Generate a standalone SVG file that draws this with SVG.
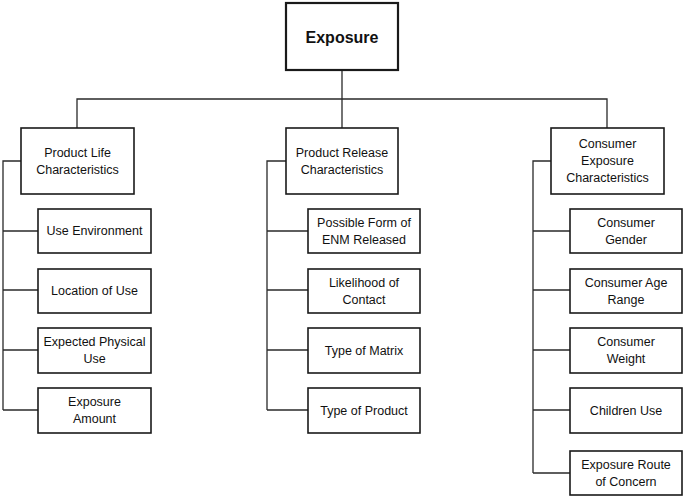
<svg xmlns="http://www.w3.org/2000/svg" width="685" height="498" viewBox="0 0 685 498">
<style>
.box{fill:#fff;stroke:#1a1a1a;stroke-width:1.6}
.root{fill:#fff;stroke:#1a1a1a;stroke-width:2.2}
.lbl{font-family:"Liberation Sans",Arial,sans-serif;font-size:12.5px;fill:#111;text-anchor:middle;dominant-baseline:central}
.rt{font-family:"Liberation Sans",Arial,sans-serif;font-size:16px;font-weight:bold;fill:#111;text-anchor:middle;dominant-baseline:central}
.con{fill:none;stroke:#2a2a2a;stroke-width:1.3}
</style>
<rect width="685" height="498" fill="#fff"/>
<g id="connectors">
<path class="con" d="M342 70V128M77 128V99H607V128"/>
<path class="con" d="M21 161H3V410M3 231H38M3 290H38M3 350H38M3 410H38"/>
<path class="con" d="M286 161H267V410M267 231H308M267 290H308M267 350H308M267 410H308"/>
<path class="con" d="M551 161H533V473M533 231H570M533 290H570M533 350H570M533 410H570M533 473H570"/>
</g>
<g id="exposure"><rect class="root" x="286" y="3" width="112" height="67"/><text class="rt" x="342" y="37">Exposure</text></g>
<g id="product-life"><rect class="box" x="21" y="128" width="113" height="66"/><text class="lbl" x="77.5" y="152.5">Product Life</text><text class="lbl" x="77.5" y="170">Characteristics</text></g>
<g id="product-release"><rect class="box" x="286" y="128" width="112" height="66"/><text class="lbl" x="342" y="152.5">Product Release</text><text class="lbl" x="342" y="170">Characteristics</text></g>
<g id="consumer-exposure"><rect class="box" x="551" y="128" width="113" height="66"/><text class="lbl" x="607.5" y="144">Consumer</text><text class="lbl" x="607.5" y="161">Exposure</text><text class="lbl" x="607.5" y="178">Characteristics</text></g>
<g id="use-environment"><rect class="box" x="38" y="209" width="113" height="44"/><text class="lbl" x="94.5" y="231">Use Environment</text></g>
<g id="location-of-use"><rect class="box" x="38" y="269" width="113" height="44"/><text class="lbl" x="94.5" y="291">Location of Use</text></g>
<g id="expected-physical-use"><rect class="box" x="38" y="328" width="113" height="45"/><text class="lbl" x="94.5" y="342">Expected Physical</text><text class="lbl" x="94.5" y="359">Use</text></g>
<g id="exposure-amount"><rect class="box" x="38" y="388" width="113" height="45"/><text class="lbl" x="94.5" y="402">Exposure</text><text class="lbl" x="94.5" y="419">Amount</text></g>
<g id="possible-form"><rect class="box" x="308" y="209" width="112" height="44"/><text class="lbl" x="364" y="222.5">Possible Form of</text><text class="lbl" x="364" y="239.5">ENM Released</text></g>
<g id="likelihood"><rect class="box" x="308" y="269" width="112" height="44"/><text class="lbl" x="364" y="282.5">Likelihood of</text><text class="lbl" x="364" y="299.5">Contact</text></g>
<g id="type-of-matrix"><rect class="box" x="308" y="328" width="112" height="45"/><text class="lbl" x="364" y="350.5">Type of Matrix</text></g>
<g id="type-of-product"><rect class="box" x="308" y="388" width="112" height="45"/><text class="lbl" x="364" y="410.5">Type of Product</text></g>
<g id="consumer-gender"><rect class="box" x="570" y="209" width="112" height="44"/><text class="lbl" x="626" y="222.5">Consumer</text><text class="lbl" x="626" y="239.5">Gender</text></g>
<g id="consumer-age"><rect class="box" x="570" y="269" width="112" height="44"/><text class="lbl" x="626" y="282.5">Consumer Age</text><text class="lbl" x="626" y="299.5">Range</text></g>
<g id="consumer-weight"><rect class="box" x="570" y="328" width="112" height="45"/><text class="lbl" x="626" y="342">Consumer</text><text class="lbl" x="626" y="359">Weight</text></g>
<g id="children-use"><rect class="box" x="570" y="388" width="112" height="45"/><text class="lbl" x="626" y="410.5">Children Use</text></g>
<g id="exposure-route"><rect class="box" x="570" y="451" width="112" height="44"/><text class="lbl" x="626" y="464.5">Exposure Route</text><text class="lbl" x="626" y="481.5">of Concern</text></g>
</svg>
